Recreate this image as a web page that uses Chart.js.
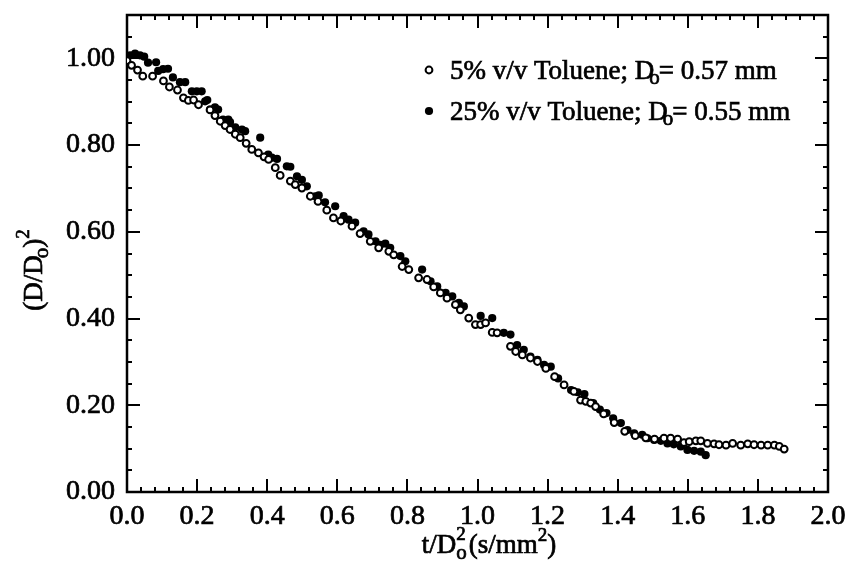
<!DOCTYPE html>
<html>
<head>
<meta charset="utf-8">
<script src="https://cdn.jsdelivr.net/npm/chart.js@4.4.1/dist/chart.umd.min.js"></script>
<style>
  html, body { margin: 0; padding: 0; background: #fff; }
</style>
</head>
<body>
<canvas id="dropChart" width="846" height="562"></canvas>
<script>
// 5% v/v Toluene, Do = 0.57 mm (open circles)
const tol5X = [0.000, 0.013, 0.030, 0.045, 0.073, 0.104, 0.121, 0.144, 0.161, 0.175, 0.190, 0.204,
  0.237, 0.251, 0.266, 0.280, 0.294, 0.309, 0.323, 0.340, 0.356, 0.375, 0.391, 0.404, 0.423, 0.437,
  0.466, 0.480, 0.499, 0.523, 0.545, 0.570, 0.589, 0.610, 0.642, 0.665, 0.694, 0.718, 0.747, 0.761,
  0.785, 0.804, 0.832, 0.856, 0.875, 0.894, 0.913, 0.937, 0.951, 0.975, 0.994, 1.009, 1.023, 1.042,
  1.056, 1.094, 1.109, 1.128, 1.151, 1.171, 1.195, 1.220, 1.247, 1.275, 1.294, 1.309, 1.323, 1.337,
  1.360, 1.390, 1.420, 1.450, 1.480, 1.505, 1.532, 1.551, 1.571, 1.589, 1.604, 1.623, 1.637, 1.656,
  1.675, 1.689, 1.709, 1.728, 1.751, 1.771, 1.789, 1.809, 1.828, 1.847, 1.861, 1.875];
const tol5Y = [0.995, 0.984, 0.973, 0.959, 0.959, 0.948, 0.934, 0.927, 0.909, 0.903, 0.904, 0.893,
  0.881, 0.868, 0.855, 0.845, 0.836, 0.825, 0.817, 0.804, 0.790, 0.782, 0.773, 0.767, 0.748, 0.730,
  0.717, 0.709, 0.701, 0.682, 0.670, 0.650, 0.632, 0.625, 0.613, 0.596, 0.578, 0.563, 0.555, 0.547,
  0.520, 0.513, 0.494, 0.490, 0.473, 0.459, 0.447, 0.432, 0.420, 0.401, 0.386, 0.386, 0.390, 0.368,
  0.367, 0.336, 0.324, 0.316, 0.309, 0.301, 0.285, 0.266, 0.247, 0.232, 0.212, 0.209, 0.205, 0.197,
  0.180, 0.160, 0.140, 0.130, 0.125, 0.122, 0.124, 0.124, 0.122, 0.114, 0.116, 0.118, 0.118, 0.112,
  0.111, 0.109, 0.108, 0.112, 0.108, 0.111, 0.109, 0.108, 0.108, 0.108, 0.105, 0.099];

// 25% v/v Toluene, Do = 0.55 mm (filled circles)
const tol25X = [0.000, 0.009, 0.023, 0.037, 0.049, 0.060, 0.083, 0.089, 0.103, 0.117, 0.131, 0.151,
  0.166, 0.185, 0.199, 0.213, 0.223, 0.229, 0.237, 0.251, 0.260, 0.274, 0.289, 0.294, 0.309, 0.328,
  0.337, 0.380, 0.403, 0.413, 0.428, 0.456, 0.466, 0.485, 0.499, 0.513, 0.537, 0.547, 0.565, 0.594,
  0.618, 0.632, 0.651, 0.675, 0.689, 0.709, 0.723, 0.737, 0.751, 0.780, 0.794, 0.842, 0.866, 0.885,
  0.909, 0.928, 0.947, 0.961, 1.009, 1.042, 1.075, 1.094, 1.113, 1.132, 1.151, 1.171, 1.190, 1.209,
  1.230, 1.267, 1.286, 1.305, 1.330, 1.349, 1.368, 1.387, 1.409, 1.428, 1.447, 1.470, 1.485, 1.504,
  1.523, 1.542, 1.560, 1.580, 1.599, 1.618, 1.637, 1.651];
const tol25Y = [1.000, 1.007, 1.011, 1.007, 1.004, 0.990, 0.991, 0.971, 0.975, 0.976, 0.956, 0.945,
  0.945, 0.924, 0.924, 0.924, 0.901, 0.904, 0.882, 0.887, 0.882, 0.859, 0.859, 0.853, 0.841, 0.836,
  0.832, 0.817, 0.778, 0.771, 0.768, 0.751, 0.750, 0.728, 0.720, 0.705, 0.682, 0.684, 0.668, 0.659,
  0.636, 0.628, 0.621, 0.601, 0.594, 0.578, 0.570, 0.573, 0.563, 0.544, 0.532, 0.513, 0.486, 0.474,
  0.459, 0.451, 0.436, 0.428, 0.406, 0.401, 0.367, 0.363, 0.339, 0.328, 0.312, 0.305, 0.293, 0.289,
  0.262, 0.235, 0.230, 0.226, 0.205, 0.190, 0.182, 0.170, 0.159, 0.143, 0.135, 0.132, 0.124, 0.120,
  0.118, 0.112, 0.110, 0.105, 0.097, 0.095, 0.093, 0.085];

const xTicks = [0.0, 0.2, 0.4, 0.6, 0.8, 1.0, 1.2, 1.4, 1.6, 1.8, 2.0];
const yTicks = [0.0, 0.2, 0.4, 0.6, 0.8, 1.0];
const xMinorStep = 0.04;
const yMinorStep = 0.05;

const serif = "'Liberation Serif', 'DejaVu Serif', serif";
Chart.defaults.font.family = serif;
Chart.defaults.color = '#000';

function toPoints(xs, ys) {
  return xs.map((v, i) => ({ x: v, y: ys[i] }));
}

// draw a run of text pieces (normal / sub / sup) starting at x
function drawRuns(ctx, x, y, runs) {
  let cx = x;
  ctx.lineWidth = 0.7;
  ctx.strokeStyle = '#000';
  runs.forEach(r => {
    ctx.font = r.size + 'px ' + serif;
    ctx.fillText(r.t, cx + (r.dx || 0), y + (r.dy || 0));
    ctx.strokeText(r.t, cx + (r.dx || 0), y + (r.dy || 0));
    if (!r.noAdvance) cx += ctx.measureText(r.t).width + (r.dx || 0);
  });
  return cx - x;
}
function runsWidth(ctx, runs) {
  let w = 0;
  runs.forEach(r => {
    ctx.font = r.size + 'px ' + serif;
    if (!r.noAdvance) w += ctx.measureText(r.t).width + (r.dx || 0);
  });
  return w;
}

const openStyle = { radius: 3.4, fill: '#fff', border: '#000', bw: 2 };
const fillStyle = { radius: 4.1, fill: '#000', border: '#000', bw: 0 };

const frameTicks = {
  id: 'frameTicks',
  beforeDatasetsDraw(chart) {
    const { ctx, chartArea: a, scales: { x, y } } = chart;
    ctx.save();
    ctx.strokeStyle = '#000';
    ctx.lineWidth = 2;
    ctx.beginPath();
    for (let i = 0; i <= Math.round(2.0 / xMinorStep); i++) {
      const v = i * xMinorStep;
      const major = Math.abs(v / 0.2 - Math.round(v / 0.2)) < 1e-6;
      const len = major ? 13 : 5;
      const px = Math.round(x.getPixelForValue(v));
      ctx.moveTo(px, a.bottom); ctx.lineTo(px, a.bottom - len);
      ctx.moveTo(px, a.top); ctx.lineTo(px, a.top + len);
    }
    for (let i = 0; i <= Math.round(1.1 / yMinorStep); i++) {
      const v = i * yMinorStep;
      const major = Math.abs(v / 0.2 - Math.round(v / 0.2)) < 1e-6;
      const len = major ? 13 : 5;
      const py = Math.round(y.getPixelForValue(v));
      ctx.moveTo(a.left, py); ctx.lineTo(a.left + len, py);
      ctx.moveTo(a.right, py); ctx.lineTo(a.right - len, py);
    }
    ctx.stroke();
    ctx.lineWidth = 2.5;
    ctx.strokeRect(a.left, a.top, a.right - a.left, a.bottom - a.top);
    ctx.restore();
  },
  afterDraw(chart) {
    const { ctx } = chart;
    ctx.save();
    ctx.fillStyle = '#000';
    ctx.textBaseline = 'alphabetic';

    // legend
    const legendRows = [
      { style: openStyle, pre: '5% v/v Toluene; D', post: '= 0.57 mm', y: 79 },
      { style: fillStyle, pre: '25% v/v Toluene; D', post: '= 0.55 mm', y: 120 }
    ];
    legendRows.forEach(row => {
      const s = row.style;
      ctx.beginPath();
      ctx.arc(429, row.y - 9, s.radius, 0, Math.PI * 2);
      ctx.fillStyle = s.fill;
      ctx.fill();
      if (s.bw) { ctx.lineWidth = s.bw; ctx.strokeStyle = s.border; ctx.stroke(); }
      ctx.fillStyle = '#000';
      drawRuns(ctx, 450, row.y, [
        { t: row.pre, size: 27 },
        { t: 'o', size: 21, dy: 5, dx: -5 },
        { t: row.post, size: 27, dx: -1 }
      ]);
    });

    // x axis title
    const xRuns = [
      { t: 't/D', size: 27 },
      { t: '2', size: 19, dy: -13, dx: 0, noAdvance: true },
      { t: 'o', size: 21, dy: 6, dx: 0 },
      { t: '(s/mm', size: 27, dx: 2 },
      { t: '2', size: 19, dy: -12 },
      { t: ')', size: 27 }
    ];
    const xw = runsWidth(ctx, xRuns);
    drawRuns(ctx, 489 - xw / 2, 553, xRuns);

    // y axis title
    ctx.translate(42, 270);
    ctx.rotate(-Math.PI / 2);
    const yRuns = [
      { t: '(D/D', size: 27 },
      { t: 'o', size: 21, dy: 6, dx: -3 },
      { t: ')', size: 27 },
      { t: '2', size: 19, dy: -13 }
    ];
    const yw = runsWidth(ctx, yRuns);
    drawRuns(ctx, -yw / 2, 0, yRuns);
    ctx.restore();
  }
};

const ctx = document.getElementById('dropChart').getContext('2d');
const dropChart = new Chart(ctx, {
  type: 'scatter',
  data: {
    datasets: [{
      label: '5% v/v Toluene; Do= 0.57 mm',
      data: toPoints(tol5X, tol5Y),
      pointRadius: openStyle.radius,
      pointBorderWidth: openStyle.bw,
      pointBackgroundColor: openStyle.fill,
      pointBorderColor: openStyle.border
    }, {
      label: '25% v/v Toluene; Do= 0.55 mm',
      data: toPoints(tol25X, tol25Y),
      pointRadius: fillStyle.radius,
      pointBorderWidth: 0,
      pointBackgroundColor: fillStyle.fill,
      pointBorderColor: fillStyle.border
    }]
  },
  options: {
    responsive: false,
    animation: false,
    devicePixelRatio: 1,
    layout: { padding: { top: 15, right: 18, left: 0, bottom: 0 } },
    scales: {
      x: {
        type: 'linear',
        min: 0,
        max: 2.0,
        grid: { display: false, drawTicks: false },
        border: { display: false },
        afterFit: s => { s.height = 70; s.paddingLeft = 0; s.paddingRight = 0; },
        afterBuildTicks: s => { s.ticks = xTicks.map(v => ({ value: v })); },
        ticks: {
          padding: 8,
          font: { size: 28 },
          textStrokeColor: '#000',
          textStrokeWidth: 0.7,
          callback: v => Number(v).toFixed(1)
        }
      },
      y: {
        type: 'linear',
        min: 0,
        max: 1.1,
        grid: { display: false, drawTicks: false },
        border: { display: false },
        afterFit: s => { s.width = 127; s.paddingTop = 0; s.paddingBottom = 0; },
        afterBuildTicks: s => { s.ticks = yTicks.map(v => ({ value: v })); },
        ticks: {
          padding: 12,
          font: { size: 28 },
          textStrokeColor: '#000',
          textStrokeWidth: 0.7,
          callback: v => Number(v).toFixed(2)
        }
      }
    },
    plugins: {
      legend: { display: false },
      tooltip: { enabled: false }
    }
  },
  plugins: [frameTicks]
});
</script>
</body>
</html>
